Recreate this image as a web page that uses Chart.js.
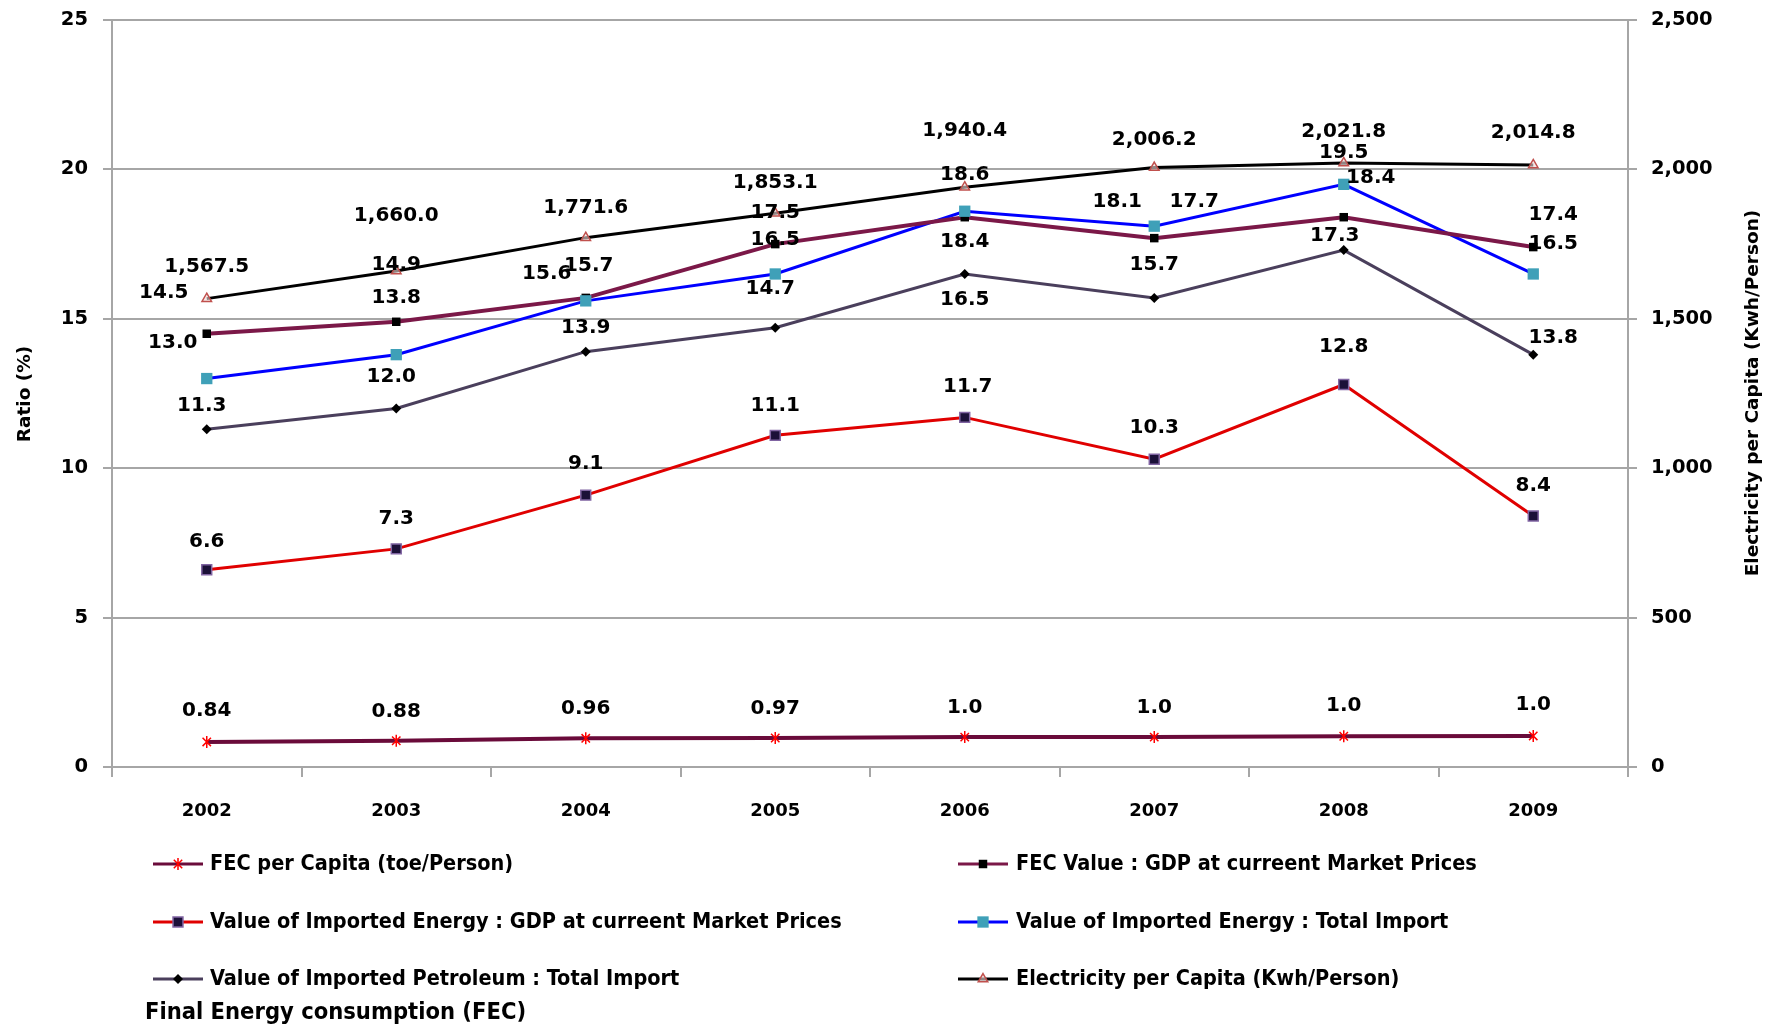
<!DOCTYPE html>
<html><head><meta charset="utf-8">
<script src="https://cdn.jsdelivr.net/npm/chart.js@4/dist/chart.umd.min.js"></script>
<style>html,body{margin:0;padding:0;background:#fff;} #wrap{width:1781px;height:1029px;position:relative;}</style>
</head><body><div id="wrap"><canvas id="c" width="1781" height="1029"></canvas></div>
<script>
// ---- data ----
const years = ['2002','2003','2004','2005','2006','2007','2008','2009'];
const fecPerCapita = [0.84, 0.88, 0.96, 0.97, 1.0, 1.0, 1.03, 1.04];
const fecValueGdp = [14.5, 14.9, 15.7, 17.5, 18.4, 17.7, 18.4, 17.4];
const impEnergyGdp = [6.6, 7.3, 9.1, 11.1, 11.7, 10.3, 12.8, 8.4];
const impEnergyTotal = [13.0, 13.8, 15.6, 16.5, 18.6, 18.1, 19.5, 16.5];
const impPetroleumTotal = [11.3, 12.0, 13.9, 14.7, 16.5, 15.7, 17.3, 13.8];
const electricityPerCapita = [1567.5, 1660.0, 1771.6, 1853.1, 1940.4, 2006.2, 2021.8, 2014.8];
const seriesNames = [
  'FEC per Capita (toe/Person)',
  'FEC Value : GDP at curreent Market Prices',
  'Value of Imported Energy : GDP at curreent Market Prices',
  'Value of Imported Energy : Total Import',
  'Value of Imported Petroleum : Total Import',
  'Electricity per Capita (Kwh/Person)'
];
const leftAxisTitle = 'Ratio (%)';
const rightAxisTitle = 'Electricity per Capita (Kwh/Person)';
const footNote = 'Final Energy consumption (FEC)';

// ---- label offsets (styling, px) ----
const labelOffsets = [
  [[0,-31],[0,-29],[0,-30],[0,-29],[0,-29],[0,-29],[0,-30],[0,-31]],
  [[-43,-41],[0,-57],[3,-32],[0,-31],[0,25],[40,-36],[27,-39],[20,-32]],
  [[0,-28],[0,-30],[0,-31],[0,-30],[3,-31],[0,-31],[0,-38],[0,-30]],
  [[-34,-36],[0,-57],[-39,-27],[0,-34],[0,-36],[-37,-24],[0,-32],[20,-30]],
  [[-5,-24],[-5,-32],[0,-24],[-5,-39],[0,26],[0,-33],[-9,-14],[20,-17]],
  [[0,-32],[0,-55],[0,-30],[0,-30],[0,-56],[0,-28],[0,-31],[0,-32]]
];
const FONT = "'DejaVu Sans', Verdana, sans-serif";
const LEGFONT = "'DejaVu Sans Condensed', 'DejaVu Sans', sans-serif";
const GRID = '#A6A6A6';

function fmt(di, v) {
  if (di === 5) return v.toLocaleString('en-US', {minimumFractionDigits:1, maximumFractionDigits:1});
  if (di === 0) return v < 0.995 ? v.toFixed(2) : v.toFixed(1);
  return v.toFixed(1);
}

function drawMarker(ctx, style, x, y, r, fill, stroke, bw) {
  ctx.save();
  ctx.fillStyle = fill; ctx.strokeStyle = stroke; ctx.lineWidth = bw;
  ctx.beginPath();
  if (style === 'rect') {
    const s = r * Math.SQRT1_2;
    ctx.rect(x - s, y - s, 2*s, 2*s); ctx.fill(); if (bw) ctx.stroke();
  } else if (style === 'rectRot') {
    const s = r;
    ctx.moveTo(x - s, y); ctx.lineTo(x, y - s); ctx.lineTo(x + s, y); ctx.lineTo(x, y + s); ctx.closePath();
    ctx.fill(); if (bw) ctx.stroke();
  } else if (style === 'triangle') {
    ctx.moveTo(x, y - r); ctx.lineTo(x + r*0.866, y + r*0.5); ctx.lineTo(x - r*0.866, y + r*0.5); ctx.closePath();
    ctx.fill(); ctx.stroke();
  } else if (style === 'star') {
    ctx.moveTo(x - r*0.7, y - r*0.7); ctx.lineTo(x + r*0.7, y + r*0.7);
    ctx.moveTo(x + r*0.7, y - r*0.7); ctx.lineTo(x - r*0.7, y + r*0.7);
    ctx.moveTo(x, y - r); ctx.lineTo(x, y + r);
    ctx.stroke();
  }
  ctx.restore();
}

const styles = [
  {line:'#6A0B3A', width:4, marker:'star', r:6, fill:'#FF0000', stroke:'#FF0000', bw:1.5},
  {line:'#7B1848', width:4, marker:'rect', r:6, fill:'#000000', stroke:'#000000', bw:0},
  {line:'#E00000', width:3, marker:'rect', r:7, fill:'#1B1038', stroke:'#8064A2', bw:1.5},
  {line:'#0000FF', width:3, marker:'rect', r:8, fill:'#3FA0B8', stroke:'#3FA0B8', bw:0},
  {line:'#4A3F5C', width:3, marker:'rectRot', r:5, fill:'#000000', stroke:'#000000', bw:0},
  {line:'#000000', width:3, marker:'triangle', r:5.5, fill:'rgba(242,220,219,0.6)', stroke:'#C0504D', bw:1.5}
];
const dataArrays = [fecPerCapita, fecValueGdp, impEnergyGdp, impEnergyTotal, impPetroleumTotal, electricityPerCapita];

const datasets = dataArrays.map((arr, i) => ({
  label: seriesNames[i],
  data: arr,
  yAxisID: i === 5 ? 'y1' : 'y',
  borderColor: styles[i].line,
  borderWidth: styles[i].width,
  backgroundColor: styles[i].fill,
  pointStyle: false,
  tension: 0,
  fill: false
}));

const markerPlugin = {
  id: 'markers',
  afterDatasetsDraw(chart) {
    const ctx = chart.ctx;
    chart.data.datasets.forEach((ds, di) => {
      const meta = chart.getDatasetMeta(di);
      const st = styles[di];
      meta.data.forEach(pt => drawMarker(ctx, st.marker, pt.x, pt.y, st.r, st.fill, st.stroke, st.bw));
    });
    // data labels
    ctx.save();
    ctx.font = 'bold 20px ' + FONT;
    ctx.fillStyle = '#000';
    ctx.textAlign = 'center';
    ctx.textBaseline = 'middle';
    chart.data.datasets.forEach((ds, di) => {
      const meta = chart.getDatasetMeta(di);
      meta.data.forEach((pt, i) => {
        const off = labelOffsets[di][i];
        ctx.fillText(fmt(di, ds.data[i]), pt.x + off[0], pt.y + off[1]);
      });
    });
    ctx.restore();
  },
  afterDraw(chart) {
    const ctx = chart.ctx;
    ctx.save();
    // axis titles
    ctx.fillStyle = '#000';
    ctx.font = 'bold 18.5px ' + FONT;
    ctx.textAlign = 'center';
    ctx.textBaseline = 'middle';
    ctx.save(); ctx.translate(25, 394); ctx.rotate(-Math.PI/2); ctx.fillText(leftAxisTitle, 0, 0); ctx.restore();
    ctx.save(); ctx.translate(1753, 393); ctx.rotate(-Math.PI/2); ctx.fillText(rightAxisTitle, 0, 0); ctx.restore();
    // legend
    const cols = [{lx:153, tx:210}, {lx:958, tx:1016}];
    const rows = [864, 922, 979];
    ctx.font = 'bold 21.5px ' + LEGFONT;
    ctx.textAlign = 'left';
    seriesNames.forEach((name, i) => {
      const c = cols[i % 2], y = rows[Math.floor(i / 2)];
      const st = styles[i];
      ctx.strokeStyle = st.line; ctx.lineWidth = Math.min(st.width, 3);
      ctx.beginPath(); ctx.moveTo(c.lx, y); ctx.lineTo(c.lx + 50, y); ctx.stroke();
      drawMarker(ctx, st.marker, c.lx + 25, y, st.r, st.fill, st.stroke, st.bw);
      ctx.fillStyle = '#000';
      ctx.fillText(name, c.tx, y);
    });
    ctx.font = 'bold 23.5px ' + LEGFONT;
    ctx.fillText(footNote, 145, 1013);
    ctx.restore();
  }
};

function noPad(s) { s.paddingTop = 0; s.paddingBottom = 0; }
const xFont = {family: FONT, size: 18, weight: 'bold'};
const yFont = {family: FONT, size: 19.5, weight: 'bold'};
new Chart(document.getElementById('c'), {
  type: 'line',
  data: {labels: years, datasets},
  options: {
    responsive: false,
    animation: false,
    devicePixelRatio: 1,
    layout: {padding: {top: 20, left: 0, right: 0, bottom: 0}},
    plugins: {legend: {display: false}, tooltip: {enabled: false}},
    scales: {
      x: {
        offset: true,
        grid: {display: true, drawOnChartArea: false, drawTicks: true, tickLength: 10, color: GRID, lineWidth: 2, offset: true},
        border: {display: true, color: GRID, width: 2},
        ticks: {font: xFont, color: '#000', padding: 24, maxRotation: 0, autoSkip: false},
        afterFit(s) { s.height = 262; s.paddingLeft = 0; s.paddingRight = 0; }
      },
      y: {
        position: 'left', min: 0, max: 25,
        ticks: {stepSize: 5, padding: 15, font: yFont, color: '#000'},
        grid: {color: GRID, lineWidth: 2, tickLength: 9},
        border: {display: true, color: GRID, width: 2},
        afterFit(s) { s.width = 112; noPad(s); }
      },
      y1: {
        position: 'right', min: 0, max: 2500,
        ticks: {stepSize: 500, padding: 14, font: yFont, color: '#000', callback: v => v.toLocaleString('en-US')},
        grid: {drawOnChartArea: false, tickLength: 9, color: GRID, lineWidth: 2},
        border: {display: true, color: GRID, width: 2},
        afterFit(s) { s.width = 153; noPad(s); }
      }
    }
  },
  plugins: [markerPlugin]
});
</script>
</body></html>
